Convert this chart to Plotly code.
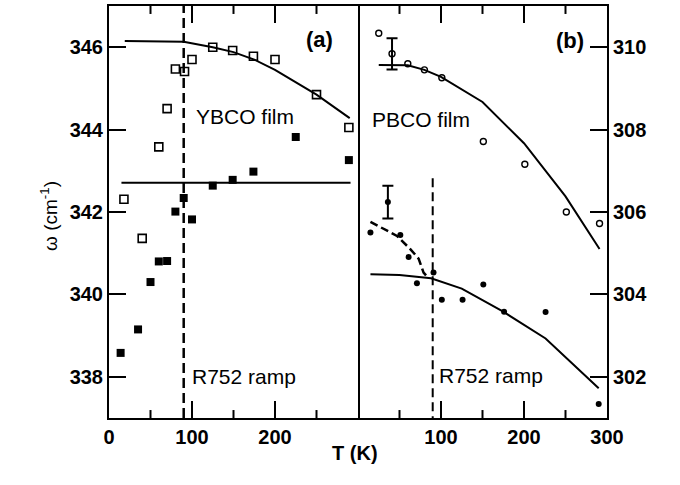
import plotly.graph_objects as go

# ---- panel (a): YBCO film on R752 ramp ----
ybco_T = [18, 40, 60, 70, 80, 91, 100, 125, 149, 174, 200, 250, 289]
ybco_w = [342.31, 341.36, 343.58, 344.51, 345.47, 345.41, 345.70, 346.00, 345.92, 345.78, 345.70, 344.85, 344.05]

ramp_a_T = [14, 35, 50, 60, 70, 80, 90, 100, 125, 149, 174, 225, 289]
ramp_a_w = [338.58, 339.15, 340.30, 340.80, 340.81, 342.01, 342.34, 341.82, 342.64, 342.78, 342.98, 343.82, 343.26]

fit_a_T = [19, 90, 125, 150, 175, 200, 250, 290]
fit_a_w = [346.15, 346.13, 346.00, 345.88, 345.70, 345.45, 344.85, 344.28]

flat_a_T = [15, 291]
flat_a_w = [342.71, 342.71]

# ---- panel (b): PBCO film on R752 ramp ----
pbco_T = [25, 60, 80, 101, 151, 201, 251, 291]
pbco_w = [310.34, 309.60, 309.45, 309.26, 307.71, 307.16, 306.00, 305.72]
pbco_err_T = [41]
pbco_err_w = [309.84]
pbco_err = [0.38]

ramp_b_T = [15, 51, 61, 71, 91, 101, 126, 151, 176, 226, 290]
ramp_b_w = [305.50, 305.44, 304.91, 304.27, 304.53, 303.87, 303.87, 304.24, 303.58, 303.57, 301.34]
ramp_b_err_T = [36]
ramp_b_err_w = [306.24]
ramp_b_err = [0.40]

fit_pbco_T = [25, 60, 80, 100, 150, 200, 250, 291]
fit_pbco_w = [309.57, 309.56, 309.45, 309.28, 308.67, 307.67, 306.38, 305.10]

fit_ramp_T = [15, 50, 88, 125, 175, 226, 290]
fit_ramp_w = [304.49, 304.47, 304.39, 304.14, 303.58, 302.93, 301.72]

low_T_T = [15, 47, 63, 73, 79, 85]
low_T_w = [305.76, 305.42, 305.10, 304.87, 304.53, 304.39]

# temperature axis ticks (long at 100 K steps, short in between)
major_T = [100, 200]
minor_T = [50, 150, 250]

Tc = 90
FONT = "Liberation Sans, Arial, sans-serif"
Y_RANGE_A = [337, 347]
Y_RANGE_B = [301, 311]

fig = go.Figure()

line = dict(color="black", width=2)
open_sq = dict(symbol="square-open", size=8, color="black", line=dict(width=1.6))
full_sq = dict(symbol="square", size=8, color="black")
open_ci = dict(symbol="circle-open", size=6, color="black", line=dict(width=1.4))
full_ci = dict(symbol="circle", size=6, color="black")


def tick_marks(yr):
    """Inward tick segments on the bottom and top edges of a panel."""
    lo, hi = yr
    unit = (hi - lo) / 414.0          # data units per pixel
    xs, ys = [], []
    for vals, length in ((major_T, 17), (minor_T, 8)):
        for t in vals:
            xs += [t, t, None, t, t, None]
            ys += [lo, lo + length * unit, None, hi, hi - length * unit, None]
    return xs, ys


# panel (a)
fig.add_trace(go.Scatter(x=fit_a_T, y=fit_a_w, mode="lines", line=line, xaxis="x", yaxis="y"))
fig.add_trace(go.Scatter(x=flat_a_T, y=flat_a_w, mode="lines", line=line, xaxis="x", yaxis="y"))
fig.add_trace(go.Scatter(x=[Tc, Tc], y=Y_RANGE_A, mode="lines",
                         line=dict(color="black", width=2.5, dash="10px,5px"), xaxis="x", yaxis="y"))
fig.add_trace(go.Scatter(x=ybco_T, y=ybco_w, mode="markers", marker=open_sq, xaxis="x", yaxis="y"))
fig.add_trace(go.Scatter(x=ramp_a_T, y=ramp_a_w, mode="markers", marker=full_sq, xaxis="x", yaxis="y"))
tx, ty = tick_marks(Y_RANGE_A)
fig.add_trace(go.Scatter(x=tx, y=ty, mode="lines", line=line, cliponaxis=False,
                         hoverinfo="skip", xaxis="x", yaxis="y"))

# panel (b)
fig.add_trace(go.Scatter(x=fit_pbco_T, y=fit_pbco_w, mode="lines", line=line, xaxis="x2", yaxis="y2"))
fig.add_trace(go.Scatter(x=fit_ramp_T, y=fit_ramp_w, mode="lines", line=line, xaxis="x2", yaxis="y2"))
fig.add_trace(go.Scatter(x=low_T_T, y=low_T_w, mode="lines",
                         line=dict(color="black", width=2.5, dash="8px,4px"), xaxis="x2", yaxis="y2"))
fig.add_trace(go.Scatter(x=[Tc, Tc], y=[306.82, Y_RANGE_B[0]], mode="lines",
                         line=dict(color="black", width=2, dash="9px,5px"), xaxis="x2", yaxis="y2"))
fig.add_trace(go.Scatter(x=pbco_T, y=pbco_w, mode="markers", marker=open_ci, xaxis="x2", yaxis="y2"))
fig.add_trace(go.Scatter(x=pbco_err_T, y=pbco_err_w, mode="markers", marker=open_ci,
                         error_y=dict(type="data", array=pbco_err, color="black", thickness=2, width=5.5),
                         xaxis="x2", yaxis="y2"))
fig.add_trace(go.Scatter(x=ramp_b_T, y=ramp_b_w, mode="markers", marker=full_ci, xaxis="x2", yaxis="y2"))
fig.add_trace(go.Scatter(x=ramp_b_err_T, y=ramp_b_err_w, mode="markers", marker=full_ci,
                         error_y=dict(type="data", array=ramp_b_err, color="black", thickness=2, width=5.5),
                         xaxis="x2", yaxis="y2"))
tx, ty = tick_marks(Y_RANGE_B)
fig.add_trace(go.Scatter(x=tx, y=ty, mode="lines", line=line, cliponaxis=False,
                         hoverinfo="skip", xaxis="x2", yaxis="y2"))

tickfont = dict(family=FONT, size=20, color="black", weight="bold")
xcommon = dict(range=[0, 300], showgrid=False, zeroline=False, showline=True, linecolor="black",
               linewidth=2, mirror=True, ticks="", tickfont=tickfont, tickmode="array",
               tickvals=[0, 100, 200, 300])
ycommon = dict(showgrid=False, zeroline=False, showline=True, linecolor="black", linewidth=2,
               ticks="inside", ticklen=17, tickwidth=2, tickcolor="black",
               tickfont=tickfont)

fig.update_layout(
    width=680, height=485,
    margin=dict(l=109, r=73, t=4, b=67),
    paper_bgcolor="white", plot_bgcolor="white",
    showlegend=False,
    # the 300 label of the left axis sits on the panel border and is left blank
    xaxis=dict(domain=[0, 0.5], anchor="y", ticktext=["0", "100", "200", ""], **xcommon),
    xaxis2=dict(domain=[0.5, 1], anchor="y2", ticktext=["", "100", "200", "300"], **xcommon),
    yaxis=dict(domain=[0, 1], anchor="x", range=Y_RANGE_A, tickvals=[338, 340, 342, 344, 346],
               side="left", mirror=True, **ycommon),
    yaxis2=dict(domain=[0, 1], anchor="x2", range=Y_RANGE_B, tickvals=[302, 304, 306, 308, 310],
                side="right", mirror=False, **ycommon),
)

txt = dict(family=FONT, size=21, color="black")
bold = dict(family=FONT, size=22, color="black", weight="bold")
annots = [
    dict(x=254, y=346.19, xref="x", yref="y", text="(a)", font=bold),
    dict(x=255, y=310.17, xref="x2", yref="y2", text="(b)", font=bold),
    dict(x=163.5, y=344.33, xref="x", yref="y", text="YBCO film", font=txt),
    dict(x=98, y=338.0, xref="x", yref="y", text="R752 ramp", font=txt, xanchor="left"),
    dict(x=76, y=308.24, xref="x2", yref="y2", text="PBCO film", font=txt),
    dict(x=95, y=302.03, xref="x2", yref="y2", text="R752 ramp", font=txt, xanchor="left"),
    dict(x=0.493, y=-0.1175, xref="paper", yref="paper", text="T (K)",
         font=dict(family=FONT, size=20, color="black", weight="bold")),
    dict(x=-0.149, y=0.49, xref="paper", yref="paper", text="ω (cm<sup>-1</sup>)", textangle=-90,
         font=dict(family=FONT, size=19, color="black")),
]
for a in annots:
    a.setdefault("showarrow", False)
fig.update_layout(annotations=annots)

fig.write_html("out.html")
